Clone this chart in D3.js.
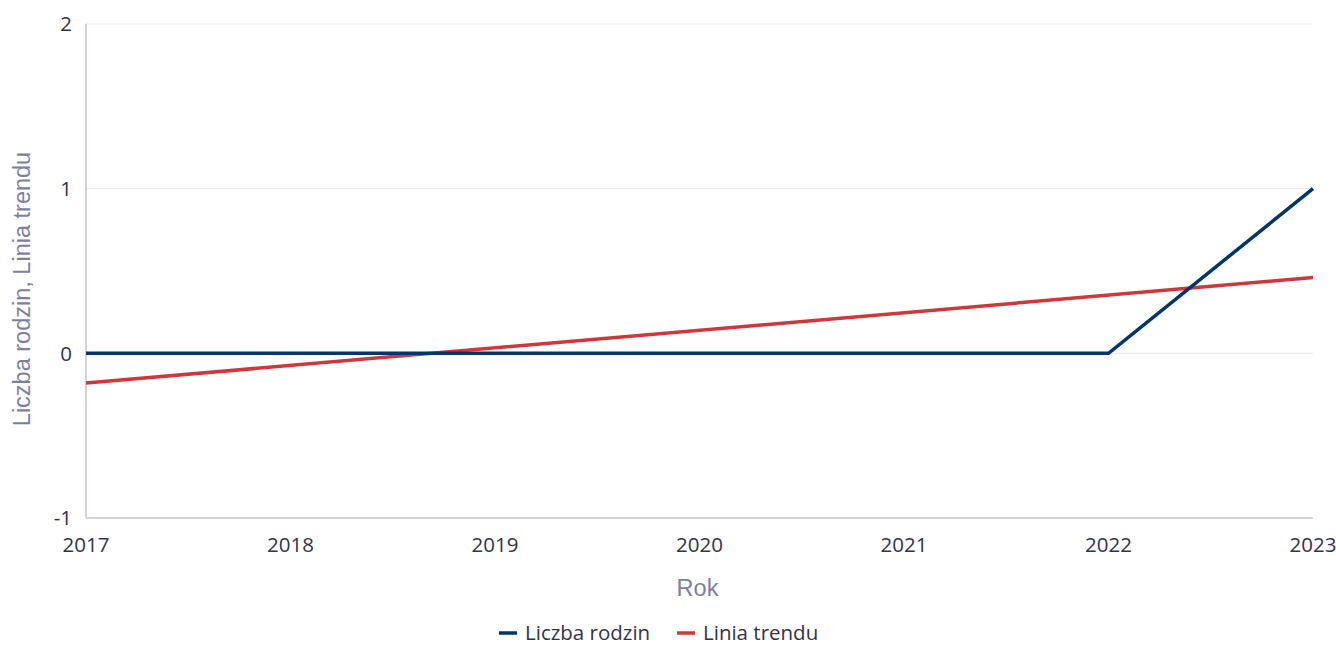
<!DOCTYPE html>
<html>
<head>
<meta charset="utf-8">
<script src="https://cdn.jsdelivr.net/npm/d3@7"></script>
<style>
  body { margin: 0; background: #fff; }
  text { font-family: "Open Sans", "Noto Sans", sans-serif; }
</style>
</head>
<body>
<div class="canvas"></div>
<script>
// data
const years = [2017, 2018, 2019, 2020, 2021, 2022, 2023];
const families = [0, 0, 0, 0, 0, 0, 1];
const trendYears = [2017, 2023];
const trendValues = [-0.18, 0.46];
const yTicks = [-1, 0, 1, 2];
const seriesNames = ['Liczba rodzin', 'Linia trendu'];
const colors = ['#00366b', '#d0373a'];

// dimensions
const width = 1336, height = 645;
const margin = {top: 24, right: 23, bottom: 127, left: 86};
const graphWidth = width - margin.left - margin.right;
const graphHeight = height - margin.top - margin.bottom;

const canvas = d3.select('.canvas')
    .append('svg')
    .attr('width', width)
    .attr('height', height);

const graph = canvas.append('g')
    .attr('transform', `translate(${margin.left},${margin.top})`);

const x = d3.scaleLinear().domain([2017, 2023]).range([0, graphWidth]);
const y = d3.scaleLinear().domain([-1, 2]).range([graphHeight, 0]);

// grid
graph.selectAll('line.grid').data(yTicks.filter(d => d > -1)).join('line')
    .attr('class', 'grid')
    .attr('x1', 0).attr('x2', graphWidth)
    .attr('y1', d => y(d)).attr('y2', d => y(d))
    .attr('stroke', '#e9e9ef')
    .attr('stroke-width', 1);

// axes lines
graph.append('line')
    .attr('x1', 0).attr('x2', 0).attr('y1', 0).attr('y2', graphHeight)
    .attr('stroke', '#c3c5d5').attr('stroke-width', 1.5);
graph.append('line')
    .attr('x1', 0).attr('x2', graphWidth).attr('y1', graphHeight).attr('y2', graphHeight)
    .attr('stroke', '#c3c5d5').attr('stroke-width', 1.5);

// tick labels
graph.selectAll('text.ytick').data(yTicks).join('text')
    .attr('class', 'ytick')
    .attr('x', -14)
    .attr('y', d => y(d))
    .attr('dy', '0.35em')
    .attr('text-anchor', 'end')
    .attr('font-size', 20.5)
    .attr('fill', '#333347')
    .text(d => d);

graph.selectAll('text.xtick').data(years).join('text')
    .attr('class', 'xtick')
    .attr('x', d => x(d))
    .attr('y', graphHeight + 34)
    .attr('text-anchor', 'middle')
    .attr('font-size', 20.5)
    .attr('fill', '#333347')
    .text(d => d);

// axis titles
canvas.append('text')
    .attr('x', margin.left + graphWidth / 2 - 2)
    .attr('y', 596)
    .attr('text-anchor', 'middle')
    .attr('font-size', 23.5)
    .attr('fill', '#7c7fa2')
    .style('font-family', '"Liberation Sans", Arial, sans-serif')
    .text('Rok');

canvas.append('text')
    .attr('transform', `translate(30,289) rotate(-90)`)
    .attr('text-anchor', 'middle')
    .attr('font-size', 23.5)
    .attr('fill', '#7c7fa2')
    .style('font-family', '"Liberation Sans", Arial, sans-serif')
    .text('Liczba rodzin, Linia trendu');

// lines
const line = d3.line().x(d => x(d[0])).y(d => y(d[1]));

graph.append('path')
    .datum(d3.zip(trendYears, trendValues))
    .attr('d', line)
    .attr('fill', 'none')
    .attr('stroke', colors[1])
    .attr('stroke-width', 3.5);

graph.append('path')
    .datum(d3.zip(years, families))
    .attr('d', line)
    .attr('fill', 'none')
    .attr('stroke', colors[0])
    .attr('stroke-width', 3.5);

// legend
const legend = canvas.append('g').attr('transform', 'translate(499,633)');
const items = legend.selectAll('g').data(seriesNames).join('g')
    .attr('transform', (d, i) => `translate(${i * 178},0)`);
items.append('line')
    .attr('x1', 0).attr('x2', 18).attr('y1', 0).attr('y2', 0)
    .attr('stroke', (d, i) => colors[i])
    .attr('stroke-width', 3.5);
items.append('text')
    .attr('x', 26)
    .attr('dy', '0.35em')
    .attr('font-size', 20.5)
    .attr('fill', '#333347')
    .text(d => d);
</script>
</body>
</html>
